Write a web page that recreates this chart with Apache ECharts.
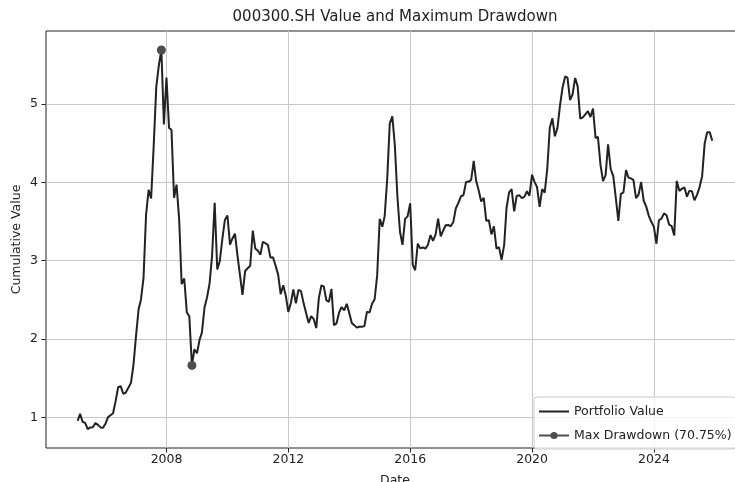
<!DOCTYPE html>
<html>
<head>
<meta charset="utf-8">
<title>000300.SH Value and Maximum Drawdown</title>
<script src="https://cdn.jsdelivr.net/npm/echarts@6/dist/echarts.min.js"></script>
<style>
  html, body { margin: 0; padding: 0; background: #ffffff; }
  #chart { width: 735px; height: 482px; }
</style>
</head>
<body>
<div id="chart"></div>
<script>
// CSI 300 (000300.SH) month-end values, base level = 1.0
const v2005 = [0.958, 1.045, 0.945, 0.930, 0.852, 0.873, 0.876, 0.928, 0.905, 0.873, 0.868, 0.923];
const v2006 = [1.006, 1.029, 1.054, 1.208, 1.385, 1.399, 1.302, 1.318, 1.380, 1.441, 1.668, 2.041];
const v2007 = [2.383, 2.503, 2.781, 3.581, 3.904, 3.793, 4.471, 5.218, 5.490, 5.689, 4.738, 5.338];
const v2008 = [4.693, 4.671, 3.803, 3.970, 3.531, 2.700, 2.773, 2.340, 2.290, 1.664, 1.870, 1.818];
const v2009 = [1.991, 2.083, 2.403, 2.530, 2.711, 3.069, 3.740, 2.889, 2.994, 3.278, 3.519, 3.576];
const v2010 = [3.204, 3.281, 3.345, 3.068, 2.811, 2.564, 2.868, 2.903, 2.935, 3.385, 3.153, 3.128];
const v2011 = [3.077, 3.239, 3.223, 3.201, 3.039, 3.044, 2.937, 2.822, 2.572, 2.688, 2.557, 2.346];
const v2012 = [2.464, 2.634, 2.455, 2.627, 2.612, 2.462, 2.333, 2.205, 2.293, 2.254, 2.140, 2.523];
const v2013 = [2.686, 2.673, 2.496, 2.474, 2.640, 2.178, 2.201, 2.340, 2.409, 2.365, 2.450, 2.331];
const v2014 = [2.203, 2.178, 2.146, 2.158, 2.157, 2.165, 2.350, 2.338, 2.450, 2.508, 2.809, 3.533];
const v2015 = [3.434, 3.566, 4.051, 4.749, 4.841, 4.473, 3.816, 3.366, 3.203, 3.534, 3.566, 3.731];
const v2016 = [2.946, 2.878, 3.218, 3.157, 3.169, 3.154, 3.203, 3.327, 3.253, 3.336, 3.538, 3.310];
const v2017 = [3.387, 3.452, 3.456, 3.439, 3.493, 3.666, 3.737, 3.822, 3.837, 4.006, 4.006, 4.031];
const v2018 = [4.275, 4.023, 3.899, 3.756, 3.802, 3.510, 3.517, 3.335, 3.438, 3.154, 3.173, 3.011];
const v2019 = [3.201, 3.670, 3.873, 3.913, 3.630, 3.826, 3.836, 3.799, 3.815, 3.886, 3.829, 4.097];
const v2020 = [4.003, 3.940, 3.686, 3.912, 3.868, 4.164, 4.696, 4.816, 4.587, 4.695, 4.980, 5.211];
const v2021 = [5.351, 5.336, 5.048, 5.123, 5.332, 5.224, 4.812, 4.828, 4.866, 4.908, 4.833, 4.940];
const v2022 = [4.564, 4.581, 4.222, 4.016, 4.091, 4.485, 4.170, 4.079, 3.804, 3.509, 3.854, 3.872];
const v2023 = [4.157, 4.062, 4.051, 4.029, 3.798, 3.842, 4.004, 3.765, 3.690, 3.573, 3.496, 3.431];
const v2024 = [3.216, 3.516, 3.537, 3.604, 3.579, 3.462, 3.442, 3.321, 4.018, 3.891, 3.916, 3.935];
const v2025 = [3.817, 3.891, 3.887, 3.770, 3.840, 3.936, 4.075, 4.497, 4.640, 4.640, 4.530];

const years = [2005, 2006, 2007, 2008, 2009, 2010, 2011, 2012, 2013, 2014, 2015,
               2016, 2017, 2018, 2019, 2020, 2021, 2022, 2023, 2024, 2025];
const yearValues = [v2005, v2006, v2007, v2008, v2009, v2010, v2011, v2012, v2013, v2014, v2015,
                    v2016, v2017, v2018, v2019, v2020, v2021, v2022, v2023, v2024, v2025];

const xTickYears = [2008, 2012, 2016, 2020, 2024];
const yTicks = [1, 2, 3, 4, 5];

const FONT = 'DejaVu Sans';
const TEXT = '#222222';

// last calendar day of month m (0-based), as a UTC timestamp
function monthEnd(y, m) { return Date.UTC(y, m + 1, 0); }

const portfolio = [];
years.forEach((y, i) => {
  yearValues[i].forEach((v, m) => portfolio.push([monthEnd(y, m), v]));
});

// maximum drawdown: largest fall from a running peak
let runPeak = 0;
let mdd = { dd: 0, peak: 0, trough: 0 };
portfolio.forEach((p, i) => {
  if (p[1] > portfolio[runPeak][1]) runPeak = i;
  const dd = 1 - p[1] / portfolio[runPeak][1];
  if (dd > mdd.dd) mdd = { dd: dd, peak: runPeak, trough: i };
});
const peakPt = portfolio[mdd.peak];
const troughPt = portfolio[mdd.trough];
const ddName = 'Max Drawdown (' + (mdd.dd * 100).toFixed(2) + '%)';

// 5% padding around the data on both axes
const tFirst = portfolio[0][0];
const tLast = portfolio[portfolio.length - 1][0];
const tPad = (tLast - tFirst) * 0.05;
const vals = portfolio.map(p => p[1]);
const vMin = Math.min.apply(null, vals);
const vMax = Math.max.apply(null, vals);
const vPad = (vMax - vMin) * 0.05;

const xTickValues = xTickYears.map(y => Date.UTC(y, 0, 1));

const chart = echarts.init(document.getElementById('chart'), null, { renderer: 'canvas' });

chart.setOption({
  animation: false,
  backgroundColor: '#ffffff',
  textStyle: { fontFamily: FONT },
  title: {
    text: '000300.SH Value and Maximum Drawdown',
    left: 395,
    top: 10,
    padding: 0,
    textAlign: 'center',
    textStyle: { fontFamily: FONT, fontSize: 15, fontWeight: 'normal', color: TEXT }
  },
  grid: {
    left: 46,
    top: 31,
    width: 698,
    height: 417,
    show: true,
    borderColor: '#222222',
    borderWidth: 1,
    backgroundColor: 'transparent',
    containLabel: false,
    outerBoundsMode: 'none'
  },
  legend: {
    orient: 'vertical',
    left: 534,
    top: 397,
    align: 'left',
    padding: [8, 4, 7, 4],
    itemWidth: 30,
    itemHeight: 9,
    itemGap: 11,
    itemTextGap: 6,
    backgroundColor: 'rgba(255,255,255,0.8)',
    borderColor: '#cccccc',
    borderWidth: 1,
    borderRadius: 3,
    textStyle: { fontFamily: FONT, fontSize: 12.5, color: TEXT },
    data: [
      { name: 'Portfolio Value', itemStyle: { opacity: 0 } },
      { name: ddName }
    ]
  },
  xAxis: {
    // timestamps on a linear scale; ticks placed on 1 January of each labelled year
    type: 'value',
    min: tFirst - tPad,
    max: tLast + tPad,
    name: 'Date',
    nameLocation: 'middle',
    nameGap: 26,
    nameMoveOverlap: false,
    nameTextStyle: { fontFamily: FONT, fontSize: 12.5, color: TEXT, verticalAlign: 'top' },
    axisLine: { show: false },
    axisTick: { show: true, length: 4.5, lineStyle: { color: '#222222', width: 1 }, customValues: xTickValues },
    axisLabel: {
      customValues: xTickValues,
      margin: 5,
      fontFamily: FONT,
      fontSize: 12.5,
      color: TEXT,
      formatter: v => String(new Date(v).getUTCFullYear())
    },
    splitLine: { show: true, lineStyle: { color: '#c8c8c8', width: 1 } }
  },
  yAxis: {
    type: 'value',
    min: vMin - vPad,
    max: vMax + vPad,
    name: 'Cumulative Value',
    nameLocation: 'middle',
    nameGap: 23,
    nameMoveOverlap: false,
    nameTextStyle: { fontFamily: FONT, fontSize: 12.5, color: TEXT },
    axisLine: { show: false },
    axisTick: { show: true, length: 4.5, lineStyle: { color: '#222222', width: 1 }, customValues: yTicks },
    axisLabel: {
      customValues: yTicks,
      margin: 8,
      fontFamily: FONT,
      fontSize: 12.5,
      color: TEXT,
      formatter: v => String(v)
    },
    splitLine: { show: true, lineStyle: { color: '#c8c8c8', width: 1 } }
  },
  series: [
    {
      name: 'Portfolio Value',
      type: 'line',
      data: portfolio,
      symbol: 'none',
      showSymbol: false,
      lineStyle: { color: '#222222', width: 2 },
      itemStyle: { color: '#222222' },
      z: 2
    },
    {
      // peak and trough markers only (the gap keeps them unconnected)
      name: ddName,
      type: 'line',
      data: [peakPt, [Math.round((peakPt[0] + troughPt[0]) / 2), null], troughPt],
      connectNulls: false,
      symbol: 'circle',
      symbolSize: 9,
      showSymbol: true,
      showAllSymbol: true,
      lineStyle: { color: '#4d4d4d', width: 2 },
      itemStyle: { color: '#4d4d4d' },
      z: 3
    }
  ]
});
</script>
</body>
</html>
